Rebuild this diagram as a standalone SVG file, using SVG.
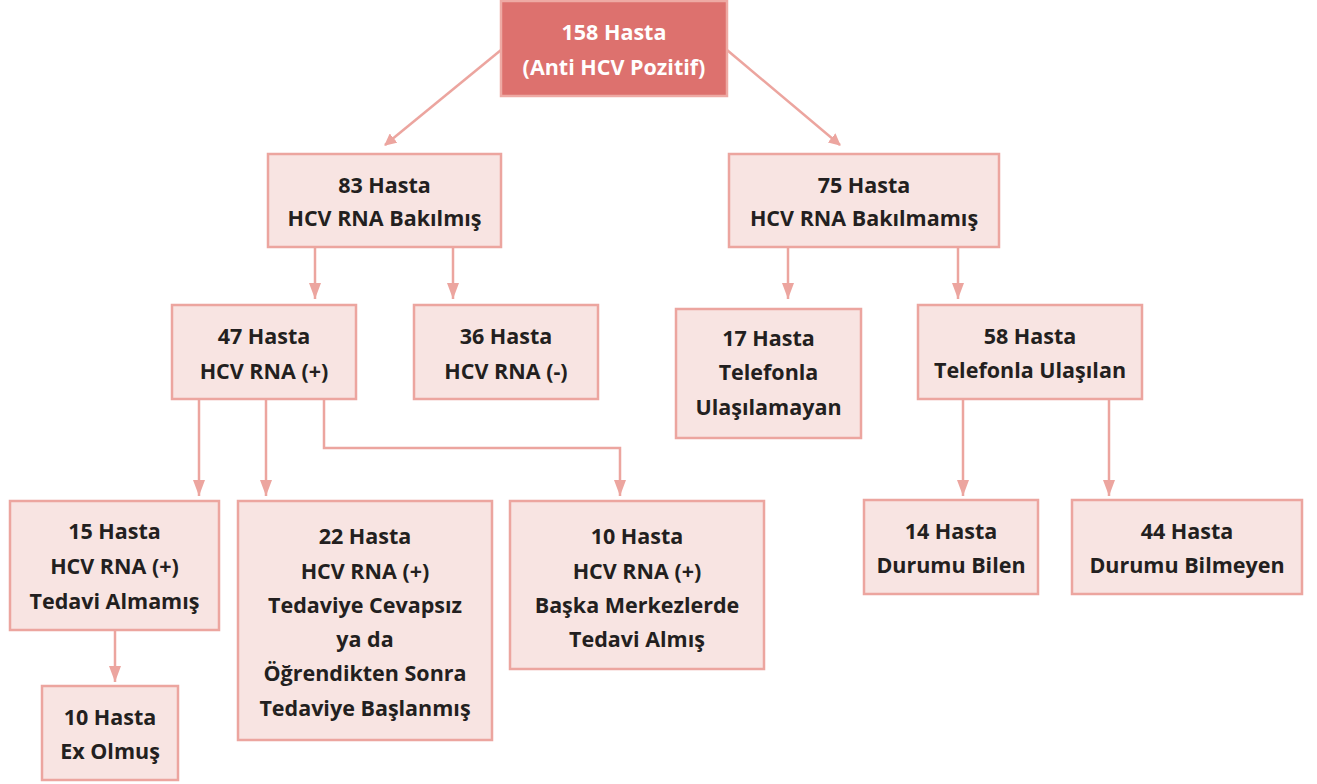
<svg xmlns="http://www.w3.org/2000/svg" width="1317" height="784" viewBox="0 0 1317 784">
<defs>
<style>
.n{fill:#f8e4e2;stroke:#eca59f;stroke-width:2.5}
.r{fill:#dd716e;stroke:#eeaaa4;stroke-width:2.5}
text{font-family:"Open Sans","Noto Sans","DejaVu Sans",sans-serif;font-weight:bold;font-size:21.5px;fill:#231f20;text-anchor:middle}
.w{fill:#ffffff}
.c{fill:none;stroke:#eca59f;stroke-width:2.5}
</style>
<marker id="ah" viewBox="0 0 12 12" refX="11" refY="6" markerWidth="12" markerHeight="12" markerUnits="userSpaceOnUse" orient="auto">
<path d="M0,0 L12,6 L0,12 Z" fill="#eca59f"/>
</marker>
<marker id="ad" viewBox="0 0 16 12" refX="16" refY="6" markerWidth="16" markerHeight="12" markerUnits="userSpaceOnUse" orient="auto">
<path d="M0,0 L16,6 L0,12 Z" fill="#eca59f"/>
</marker>
</defs>
<rect width="1317" height="784" fill="#ffffff"/>
<g id="connectors">
<path class="c" d="M501,50 L385,145" marker-end="url(#ah)"/>
<path class="c" d="M727,50 L840,145" marker-end="url(#ah)"/>
<path class="c" d="M315,247 V299" marker-end="url(#ad)"/>
<path class="c" d="M453,247 V299" marker-end="url(#ad)"/>
<path class="c" d="M788,247 V299" marker-end="url(#ad)"/>
<path class="c" d="M958,247 V299" marker-end="url(#ad)"/>
<path class="c" d="M199,399 V496" marker-end="url(#ad)"/>
<path class="c" d="M266,399 V496" marker-end="url(#ad)"/>
<path class="c" d="M324,399 V448 H620 V496" marker-end="url(#ad)"/>
<path class="c" d="M963,399 V496" marker-end="url(#ad)"/>
<path class="c" d="M1109,399 V496" marker-end="url(#ad)"/>
<path class="c" d="M115,630 V682" marker-end="url(#ad)"/>
</g>
<g id="n158"><rect class="r" x="501" y="1" width="226" height="95"/><text class="w" x="614" y="40">158 Hasta</text><text class="w" x="614" y="75">(Anti HCV Pozitif)</text></g>
<g id="n83"><rect class="n" x="268" y="154" width="233" height="93"/><text x="384.5" y="193">83 Hasta</text><text x="384.5" y="226">HCV RNA Bakılmış</text></g>
<g id="n75"><rect class="n" x="729" y="154" width="270" height="93"/><text x="864" y="193">75 Hasta</text><text x="864" y="226">HCV RNA Bakılmamış</text></g>
<g id="n47"><rect class="n" x="172" y="305" width="184" height="94"/><text x="264" y="344">47 Hasta</text><text x="264" y="379">HCV RNA (+)</text></g>
<g id="n36"><rect class="n" x="414" y="305" width="184" height="94"/><text x="506" y="344">36 Hasta</text><text x="506" y="379">HCV RNA (-)</text></g>
<g id="n17"><rect class="n" x="676" y="309" width="185" height="129"/><text x="768.5" y="346">17 Hasta</text><text x="768.5" y="380">Telefonla</text><text x="768.5" y="415">Ulaşılamayan</text></g>
<g id="n58"><rect class="n" x="918" y="305" width="224" height="94"/><text x="1030" y="344">58 Hasta</text><text x="1030" y="378">Telefonla Ulaşılan</text></g>
<g id="n15"><rect class="n" x="10" y="501" width="209" height="129"/><text x="114.5" y="539">15 Hasta</text><text x="114.5" y="574">HCV RNA (+)</text><text x="114.5" y="609">Tedavi Almamış</text></g>
<g id="n22"><rect class="n" x="238" y="501" width="254" height="239"/><text x="365" y="544">22 Hasta</text><text x="365" y="579">HCV RNA (+)</text><text x="365" y="613">Tedaviye Cevapsız</text><text x="365" y="647">ya da</text><text x="365" y="681">Öğrendikten Sonra</text><text x="365" y="716">Tedaviye Başlanmış</text></g>
<g id="n10b"><rect class="n" x="510" y="501" width="254" height="168"/><text x="637" y="544">10 Hasta</text><text x="637" y="579">HCV RNA (+)</text><text x="637" y="613">Başka Merkezlerde</text><text x="637" y="647">Tedavi Almış</text></g>
<g id="n14"><rect class="n" x="864" y="500" width="174" height="94"/><text x="951" y="539">14 Hasta</text><text x="951" y="573">Durumu Bilen</text></g>
<g id="n44"><rect class="n" x="1072" y="500" width="230" height="94"/><text x="1187" y="539">44 Hasta</text><text x="1187" y="573">Durumu Bilmeyen</text></g>
<g id="n10e"><rect class="n" x="42" y="686" width="136" height="94"/><text x="110" y="725">10 Hasta</text><text x="110" y="759">Ex Olmuş</text></g>
</svg>
